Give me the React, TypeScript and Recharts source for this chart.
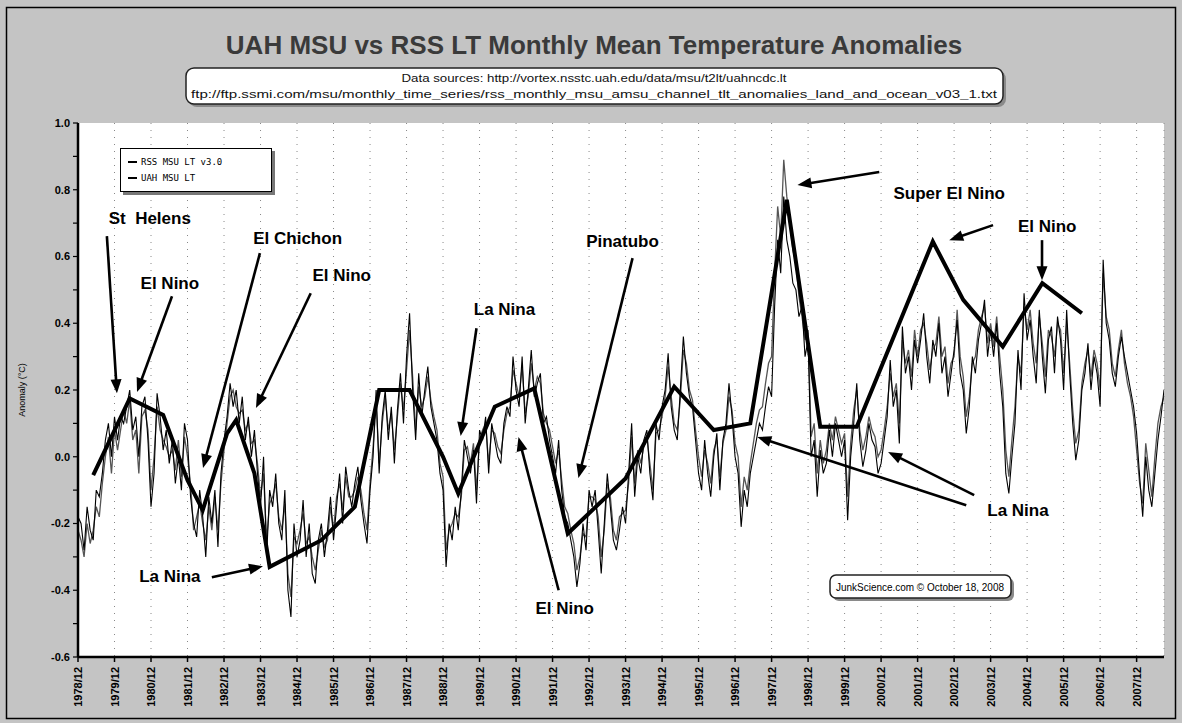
import React from 'react';
import { LineChart, Line, XAxis, YAxis, CartesianGrid, Legend, ReferenceLine, ReferenceDot } from 'recharts';

// x tick labels (one per December)
const tickLabels = [
  '1978/12', '1979/12', '1980/12', '1981/12', '1982/12', '1983/12', '1984/12', '1985/12', '1986/12', '1987/12',
  '1988/12', '1989/12', '1990/12', '1991/12', '1992/12', '1993/12', '1994/12', '1995/12', '1996/12', '1997/12',
  '1998/12', '1999/12', '2000/12', '2001/12', '2002/12', '2003/12', '2004/12', '2005/12', '2006/12', '2007/12',
];

// UAH MSU LT monthly anomalies, 1978/12 .. 2008/09
const uahValues = [
  -0.18,
  -0.20, -0.28, -0.15, -0.22, -0.25, -0.10, -0.12, -0.05, 0.05, 0.10, 0.00, 0.12,
  0.05, 0.12, 0.10, 0.15, 0.20, 0.08, 0.12, 0.00, 0.15, 0.18, 0.05, -0.15,
  -0.05, 0.19, 0.12, 0.02, 0.08, -0.02, 0.05, -0.08, 0.00, -0.10, 0.10, 0.05,
  -0.12, -0.20, -0.24, -0.10, -0.18, -0.30, -0.12, -0.20, -0.10, -0.27, -0.05, 0.05,
  0.12, 0.22, 0.15, 0.20, 0.10, 0.18, 0.05, 0.12, 0.00, 0.08, -0.05, -0.15,
  0.00, -0.30, -0.10, -0.15, -0.05, -0.20, -0.25, -0.10, -0.40, -0.48, -0.20, -0.30,
  -0.25, -0.13, -0.30, -0.20, -0.35, -0.38, -0.25, -0.20, -0.30, -0.22, -0.12, -0.25,
  -0.15, -0.05, -0.20, -0.03, -0.10, -0.15, -0.08, -0.03, -0.13, -0.20, -0.26, -0.10,
  0.00, 0.20, -0.05, 0.12, 0.20, 0.05, 0.15, -0.02, 0.14, 0.25, 0.10, 0.30,
  0.43, 0.20, 0.05, 0.25, 0.12, 0.20, 0.27, 0.15, 0.10, 0.05, -0.05, -0.10,
  -0.33, -0.20, -0.25, -0.15, -0.22, -0.10, 0.05, 0.00, -0.05, 0.02, -0.14, 0.08,
  0.05, 0.12, -0.05, 0.10, 0.05, 0.00, -0.02, 0.10, 0.15, 0.12, 0.30, 0.20,
  0.15, 0.30, 0.10, 0.20, 0.32, 0.18, 0.22, 0.25, 0.10, 0.12, 0.05, 0.00,
  -0.05, 0.05, -0.10, -0.18, -0.20, -0.25, -0.30, -0.39, -0.32, -0.20, -0.28, -0.10,
  -0.15, -0.10, -0.22, -0.35, -0.20, -0.05, -0.15, -0.25, -0.28, -0.22, -0.15, -0.20,
  -0.05, 0.10, -0.12, 0.00, -0.05, 0.05, 0.08, -0.05, -0.13, 0.10, 0.05, 0.15,
  0.20, 0.31, 0.15, 0.08, 0.05, 0.20, 0.36, 0.25, 0.18, 0.15, 0.05, -0.05,
  -0.10, 0.05, -0.05, -0.12, 0.00, 0.07, -0.10, 0.05, 0.10, 0.22, 0.12, 0.00,
  -0.05, -0.21, -0.10, -0.15, -0.05, 0.00, 0.05, 0.10, 0.08, 0.15, 0.21, 0.18,
  0.45, 0.65, 0.55, 0.78, 0.65, 0.60, 0.52, 0.50, 0.42, 0.45, 0.30, 0.35,
  0.00, 0.05, -0.12, 0.02, -0.05, -0.02, 0.08, 0.00, 0.10, 0.05, 0.00, 0.05,
  -0.19, 0.00, 0.10, 0.22, 0.05, -0.03, 0.02, 0.10, 0.05, 0.03, -0.05, -0.02,
  0.05, 0.12, 0.29, 0.15, 0.20, 0.04, 0.39, 0.25, 0.30, 0.20, 0.35, 0.28,
  0.35, 0.43, 0.30, 0.22, 0.35, 0.30, 0.40, 0.25, 0.30, 0.18, 0.25, 0.32,
  0.41, 0.25, 0.20, 0.07, 0.15, 0.30, 0.25, 0.35, 0.40, 0.47, 0.30, 0.38,
  0.30, 0.40, 0.25, 0.15, -0.05, -0.11, 0.00, 0.10, 0.32, 0.20, 0.49, 0.35,
  0.41, 0.30, 0.22, 0.44, 0.30, 0.19, 0.35, 0.39, 0.25, 0.42, 0.35, 0.20,
  0.44, 0.25, 0.10, -0.01, 0.05, 0.20, 0.25, 0.34, 0.20, 0.30, 0.25, 0.15,
  0.59, 0.40, 0.35, 0.25, 0.21, 0.30, 0.36, 0.30, 0.25, 0.20, 0.15, 0.07,
  -0.06, -0.18, 0.00, -0.10, -0.15, -0.05, 0.05, 0.12, 0.20,
];

// RSS MSU LT v3.0 monthly anomalies, 1978/12 .. 2008/09
const rssValues = [
  -0.22,
  -0.25, -0.30, -0.20, -0.26, -0.22, -0.15, -0.18, -0.08, 0.00, 0.06, -0.05, 0.08,
  0.02, 0.08, 0.14, 0.10, 0.17, 0.05, 0.08, -0.05, 0.12, 0.14, 0.08, -0.10,
  0.00, 0.15, 0.08, 0.05, 0.03, 0.00, 0.02, -0.04, 0.05, -0.06, 0.06, 0.00,
  -0.08, -0.22, -0.18, -0.14, -0.20, -0.25, -0.15, -0.22, -0.12, -0.22, -0.08, 0.02,
  0.10, 0.18, 0.20, 0.15, 0.13, 0.14, 0.08, 0.10, 0.04, 0.05, -0.02, -0.12,
  -0.05, -0.25, -0.14, -0.12, -0.08, -0.18, -0.22, -0.14, -0.35, -0.42, -0.24, -0.26,
  -0.22, -0.17, -0.26, -0.24, -0.30, -0.34, -0.28, -0.22, -0.27, -0.25, -0.15, -0.22,
  -0.12, -0.08, -0.16, -0.06, -0.12, -0.12, -0.10, -0.06, -0.10, -0.17, -0.22, -0.08,
  0.03, 0.16, -0.02, 0.10, 0.18, 0.08, 0.13, 0.02, 0.12, 0.22, 0.14, 0.26,
  0.38, 0.24, 0.08, 0.21, 0.15, 0.18, 0.24, 0.17, 0.12, 0.08, -0.02, -0.06,
  -0.28, -0.22, -0.20, -0.17, -0.18, -0.12, 0.02, 0.03, -0.02, 0.04, -0.10, 0.05,
  0.08, 0.10, -0.02, 0.08, 0.07, 0.03, 0.01, 0.08, 0.13, 0.15, 0.26, 0.22,
  0.18, 0.27, 0.13, 0.18, 0.28, 0.20, 0.24, 0.22, 0.13, 0.10, 0.08, 0.03,
  -0.02, 0.02, -0.07, -0.15, -0.17, -0.22, -0.26, -0.34, -0.30, -0.23, -0.24, -0.12,
  -0.12, -0.13, -0.18, -0.30, -0.22, -0.08, -0.12, -0.22, -0.25, -0.18, -0.17, -0.16,
  -0.08, 0.06, -0.08, 0.02, -0.02, 0.03, 0.06, -0.02, -0.10, 0.07, 0.08, 0.12,
  0.18, 0.27, 0.18, 0.10, 0.08, 0.17, 0.32, 0.28, 0.20, 0.17, 0.08, 0.00,
  -0.06, 0.02, -0.02, -0.08, 0.02, 0.05, -0.06, 0.04, 0.08, 0.18, 0.14, 0.04,
  0.00, -0.15, -0.06, -0.10, -0.02, 0.04, 0.10, 0.14, 0.15, 0.22, 0.28, 0.30,
  0.55, 0.75, 0.66, 0.89, 0.78, 0.70, 0.62, 0.58, 0.48, 0.42, 0.35, 0.38,
  0.06, 0.10, -0.05, 0.05, -0.02, 0.02, 0.10, 0.05, 0.12, 0.08, 0.04, 0.07,
  -0.12, 0.04, 0.14, 0.20, 0.08, 0.02, 0.06, 0.12, 0.08, 0.06, 0.00, 0.02,
  0.08, 0.15, 0.25, 0.18, 0.22, 0.10, 0.35, 0.28, 0.32, 0.24, 0.38, 0.30,
  0.38, 0.40, 0.34, 0.26, 0.32, 0.34, 0.42, 0.30, 0.33, 0.22, 0.28, 0.30,
  0.44, 0.30, 0.24, 0.12, 0.18, 0.28, 0.30, 0.38, 0.42, 0.45, 0.34, 0.40,
  0.33, 0.42, 0.30, 0.20, 0.02, -0.06, 0.05, 0.15, 0.30, 0.25, 0.45, 0.38,
  0.44, 0.34, 0.28, 0.42, 0.34, 0.24, 0.38, 0.36, 0.30, 0.40, 0.38, 0.25,
  0.40, 0.28, 0.14, 0.04, 0.08, 0.22, 0.28, 0.32, 0.24, 0.32, 0.28, 0.20,
  0.55, 0.42, 0.38, 0.28, 0.24, 0.32, 0.38, 0.28, 0.22, 0.18, 0.12, 0.02,
  -0.08, -0.14, 0.04, -0.04, -0.12, 0.00, 0.10, 0.15, 0.18,
];

// hand-drawn bold guide line through the ENSO / volcanic turning points (month index -> value)
const keyMonths = [5, 17, 28, 36, 41, 49, 52, 58, 63, 80, 91, 99, 109, 120, 125, 137, 150, 161, 180, 196, 209, 221, 233, 244, 256, 281, 291, 304, 317, 330];
const keyValues = [-0.055, 0.175, 0.125, -0.07, -0.16, 0.07, 0.11, -0.05, -0.33, -0.25, -0.15, 0.2, 0.2, 0.0, -0.11, 0.15, 0.205, -0.23, -0.065, 0.21, 0.08, 0.1, 0.77, 0.09, 0.09, 0.645, 0.47, 0.33, 0.52, 0.43];

const yTicks = [-0.6, -0.5, -0.4, -0.3, -0.2, -0.1, 0.0, 0.1, 0.2, 0.3, 0.4, 0.5, 0.6, 0.7, 0.8, 0.9, 1.0];

// annotation texts (data coordinates: month index, anomaly)
const annotationLabels = [
  { m: 23.6, v: 0.715, text: 'St  Helens' },
  { m: 30.2, v: 0.52, text: 'El Nino' },
  { m: 72.2, v: 0.655, text: 'El Chichon' },
  { m: 86.7, v: 0.544, text: 'El Nino' },
  { m: 30.2, v: -0.36, text: 'La Nina' },
  { m: 140.2, v: 0.44, text: 'La Nina' },
  { m: 179, v: 0.646, text: 'Pinatubo' },
  { m: 160, v: -0.454, text: 'El Nino' },
  { m: 286.4, v: 0.79, text: 'Super El Nino' },
  { m: 318.6, v: 0.69, text: 'El Nino' },
  { m: 309, v: -0.16, text: 'La Nina' },
];

const annotationArrows = [
  { m1: 9.5, v1: 0.661, m2: 12.8, v2: 0.19 },
  { m1: 30.9, v1: 0.481, m2: 19.4, v2: 0.194 },
  { m1: 59.8, v1: 0.61, m2: 41.1, v2: -0.034 },
  { m1: 76.5, v1: 0.49, m2: 58.5, v2: 0.146 },
  { m1: 44, v1: -0.361, m2: 60.8, v2: -0.328 },
  { m1: 131, v1: 0.385, m2: 125.8, v2: 0.062 },
  { m1: 182.3, v1: 0.595, m2: 164.5, v2: -0.064 },
  { m1: 158, v1: -0.4, m2: 144.8, v2: 0.059 },
  { m1: 263.4, v1: 0.853, m2: 236.5, v2: 0.814 },
  { m1: 300.8, v1: 0.694, m2: 286.4, v2: 0.649 },
  { m1: 316.9, v1: 0.649, m2: 316.9, v2: 0.529 },
  { m1: 294.6, v1: -0.115, m2: 266.3, v2: 0.014 },
  { m1: 292, v1: -0.145, m2: 223.3, v2: 0.059 },
];

const data = uahValues.map((u, i) => ({ m: i, uah: u, rss: rssValues[i], key: null as number | null }));
keyMonths.forEach((km, j) => {
  data[km].key = keyValues[j];
});
const tickMonths = tickLabels.map((_, i) => i * 12);
const lastMonth = uahValues.length - 1;

const FONT = '"Liberation Sans", Arial, sans-serif';

const ArrowShape = (p: any) => {
  const x1 = Number(p.x1), y1 = Number(p.y1), x2 = Number(p.x2), y2 = Number(p.y2);
  const dx = x2 - x1, dy = y2 - y1;
  const len = Math.hypot(dx, dy) || 1;
  const ux = dx / len, uy = dy / len;
  const hl = 14, hw = 5.5;
  const bx = x2 - ux * hl, by = y2 - uy * hl;
  const pts = `${x2},${y2} ${bx - uy * hw},${by + ux * hw} ${bx + uy * hw},${by - ux * hw}`;
  return (
    <g>
      <line x1={x1} y1={y1} x2={bx + ux * 2} y2={by + uy * 2} stroke="#000" strokeWidth={2.6} />
      <polygon points={pts} fill="#000" />
    </g>
  );
};

const makeLabelShape = (text: string) => (p: any) => (
  <text
    x={p.cx}
    y={p.cy}
    textAnchor="middle"
    dominantBaseline="central"
    fontFamily={FONT}
    fontWeight="bold"
    fontSize={17}
    fill="#000"
    style={{ whiteSpace: 'pre' }}
  >
    {text}
  </text>
);

const XTick = (props: any) => {
  const { x, y, payload } = props;
  const label = tickLabels[Math.round(payload.value / 12)];
  return (
    <text
      x={0}
      y={0}
      transform={`translate(${x},${y + 3}) rotate(-90)`}
      textAnchor="end"
      dominantBaseline="central"
      fontFamily={FONT}
      fontWeight="bold"
      fontSize={11}
      fill="#000"
    >
      {label}
    </text>
  );
};

const renderLegend = (props: any) => {
  const items = (props.payload || []).filter((e: any) => e.type !== 'none');
  return (
    <div
      style={{
        background: '#fff',
        border: '1px solid #000',
        boxShadow: '3px 3px 0 #777',
        width: 152,
        height: 44,
        boxSizing: 'border-box',
        padding: '5px 0 0 7px',
        fontFamily: '"DejaVu Sans Mono", monospace',
        fontSize: 9,
        color: '#000',
        lineHeight: '16px',
      }}
    >
      {items.map((e: any, i: number) => (
        <div key={i} style={{ display: 'flex', alignItems: 'center', height: 16 }}>
          <span style={{ display: 'inline-block', width: 9, height: i === 0 ? 1.5 : 2, background: '#000', marginRight: 4 }} />
          <span>{e.value}</span>
        </div>
      ))}
    </div>
  );
};

export default function App() {
  return (
    <div style={{ position: 'absolute', left: 0, top: 0, width: 1182, height: 723, background: '#c4c4c4', overflow: 'hidden' }}>
      <LineChart width={1182} height={723} data={data} margin={{ top: 123, right: 18, bottom: 6, left: 48 }}>
        <CartesianGrid horizontal={false} vertical={true} stroke="#888" strokeWidth={1} strokeDasharray="1 6" fill="#ffffff" />
        <XAxis
          type="number"
          dataKey="m"
          domain={[0, lastMonth]}
          ticks={tickMonths}
          interval={0}
          height={60}
          tick={<XTick />}
          tickSize={5}
          axisLine={{ stroke: '#000', strokeWidth: 2.5 }}
          tickLine={{ stroke: '#000', strokeWidth: 1.5 }}
          allowDataOverflow
        />
        <YAxis
          type="number"
          domain={[-0.6, 1.0]}
          ticks={yTicks}
          interval={0}
          width={30}
          tickSize={5}
          tickMargin={3}
          tickFormatter={(v: number) => (Math.round(v * 10) % 2 === 0 ? v.toFixed(1) : '')}
          tick={{ fontSize: 11, fontWeight: 'bold', fill: '#000', fontFamily: FONT }}
          axisLine={{ stroke: '#000', strokeWidth: 2.5 }}
          tickLine={{ stroke: '#000', strokeWidth: 1.2 }}
          allowDataOverflow
        />
        <Legend
          layout="horizontal"
          align="center"
          verticalAlign="middle"
          content={renderLegend}
          wrapperStyle={{ left: 120, top: 148, width: 156, height: 48 }}
        />
        <Line
          type="linear"
          dataKey="rss"
          name="RSS MSU LT v3.0"
          stroke="#555555"
          strokeWidth={1.3}
          dot={false}
          isAnimationActive={false}
        />
        <Line
          type="linear"
          dataKey="uah"
          name="UAH MSU LT"
          stroke="#000000"
          strokeWidth={1.1}
          dot={false}
          isAnimationActive={false}
        />
        <Line
          type="linear"
          dataKey="key"
          name="guide"
          stroke="#000000"
          strokeWidth={4}
          dot={false}
          connectNulls
          legendType="none"
          isAnimationActive={false}
        />
        {annotationArrows.map((a, i) => (
          <ReferenceLine
            key={`arrow-${i}`}
            segment={[{ x: a.m1, y: a.v1 }, { x: a.m2, y: a.v2 }]}
            ifOverflow="visible"
            shape={ArrowShape}
          />
        ))}
        {annotationLabels.map((l, i) => (
          <ReferenceDot key={`lbl-${i}`} x={l.m} y={l.v} r={1} ifOverflow="visible" shape={makeLabelShape(l.text)} />
        ))}
      </LineChart>
      <svg
        width={1182}
        height={723}
        style={{ position: 'absolute', left: 0, top: 0, pointerEvents: 'none' }}
      >
        <rect x={6.5} y={7.5} width={1169} height={711} fill="none" stroke="#000" strokeWidth={1.5} />
        <text x={594} y={54} textAnchor="middle" fontFamily={FONT} fontWeight="bold" fontSize={26} fill="#3a3a3a">
          UAH MSU vs RSS LT Monthly Mean Temperature Anomalies
        </text>
        <rect x={189} y={71} width={817} height={36} rx={8} fill="#8a8a8a" />
        <rect x={186} y={68} width={817} height={36} rx={8} fill="#fff" stroke="#222" strokeWidth={1.5} />
        <text x={594} y={82} textAnchor="middle" fontFamily={FONT} fontSize={11} fill="#111" textLength={385} lengthAdjust="spacingAndGlyphs">
          Data sources: http://vortex.nsstc.uah.edu/data/msu/t2lt/uahncdc.lt
        </text>
        <text x={594} y={98} textAnchor="middle" fontFamily={FONT} fontSize={11} fill="#111" textLength={806} lengthAdjust="spacingAndGlyphs">
          ftp://ftp.ssmi.com/msu/monthly_time_series/rss_monthly_msu_amsu_channel_tlt_anomalies_land_and_ocean_v03_1.txt
        </text>
        <text x={22} y={390} transform="rotate(-90, 22, 390)" textAnchor="middle" dominantBaseline="central" fontFamily={FONT} fontSize={9} fill="#000">
          Anomaly (°C)
        </text>
        <rect x={833} y={578} width={181} height={23} rx={6} fill="#8a8a8a" />
        <rect x={830} y={575} width={181} height={23} rx={6} fill="#fff" stroke="#222" strokeWidth={1.5} />
        <text x={920} y={591} textAnchor="middle" fontFamily={FONT} fontSize={11} fill="#000" textLength={168} lengthAdjust="spacingAndGlyphs">
          JunkScience.com © October 18, 2008
        </text>
      </svg>
    </div>
  );
}
